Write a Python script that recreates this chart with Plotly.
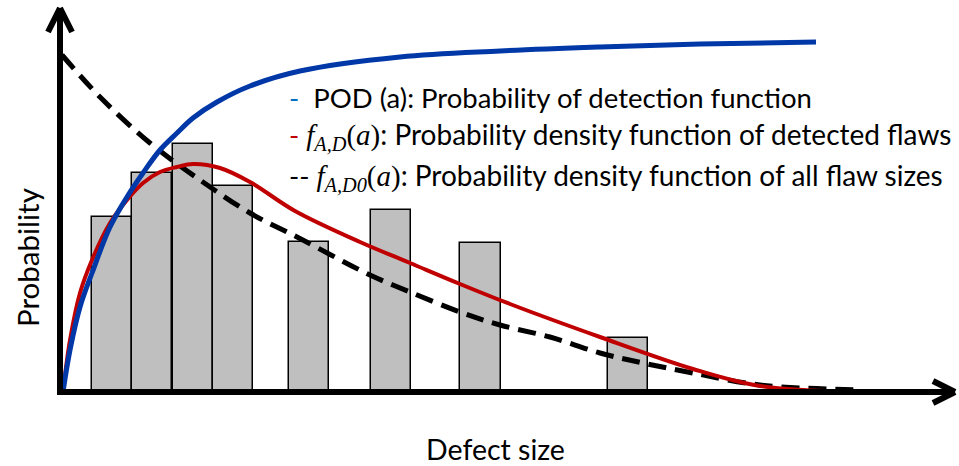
import plotly.graph_objects as go

# ---- data (x: defect size, arbitrary units; y: probability, arbitrary units)
bar_x = [5.17, 9.2, 13.28, 17.33, 24.9, 33.1, 42.05, 56.8]
bar_h = [17.47, 21.87, 24.77, 20.6, 14.97, 18.2, 14.9, 5.37]
bar_w = 4.03

pod_x = [0.3, 1.0, 2.0, 3.2, 5.0, 6.7, 8.3, 10.0, 11.7, 13.3, 15.7, 19.0, 24.0, 34.0, 44.0, 54.0, 64.0, 75.6]
pod_y = [0.0, 4.2, 8.5, 11.9, 16.5, 19.5, 21.9, 24.2, 25.9, 27.4, 29.0, 30.6, 32.1, 33.5, 34.1, 34.5, 34.8, 35.0]

fad_x = [0.3, 1.0, 2.0, 3.2, 5.0, 6.7, 8.3, 10.0, 11.7, 13.3, 16.0, 19.0, 23.5, 30.0, 35.0, 40.0, 45.0, 54.0, 63.3, 70.0, 79.3]
fad_y = [0.0, 5.2, 9.9, 13.2, 16.9, 19.2, 20.9, 22.0, 22.5, 22.8, 22.4, 21.0, 18.1, 15.0, 12.9, 10.8, 8.8, 5.5, 2.3, 0.6, 0.0]

fall_x = [0.2, 4.0, 9.0, 14.0, 19.0, 23.7, 31.0, 35.0, 40.0, 44.0, 49.0, 54.0, 58.3, 63.3, 70.0, 80.0]
fall_y = [33.7, 29.5, 24.9, 21.2, 17.9, 15.5, 11.7, 10.0, 8.0, 6.7, 5.5, 3.9, 2.9, 1.9, 0.7, 0.2]

x_label = "Defect size"
y_label = "Probability"
legend_marks = ["-", "-", "--"]
legend_mark_colors = ["#0070C0", "#C00000", "#000000"]
legend_math = ["", "<i>f</i><sub><i>A,D</i></sub>(<i>a</i>)", "<i>f</i><sub><i>A,D0</i></sub>(<i>a</i>)"]
legend_texts = ["POD (a): Probability of detection function",
                ": Probability density function of detected flaws",
                ": Probability density function of all flaw sizes"]

fig = go.Figure()
fig.add_trace(go.Bar(x=bar_x, y=bar_h, width=bar_w,
                     marker=dict(color="#BFBFBF", line=dict(color="black", width=1.5)),
                     showlegend=False, hoverinfo="skip"))
fig.add_trace(go.Scatter(x=fall_x, y=fall_y, mode="lines", line_shape="spline",
                         line=dict(color="black", width=5, dash="18px,9px"), showlegend=False))
fig.add_trace(go.Scatter(x=fad_x, y=fad_y, mode="lines", line_shape="spline",
                         line=dict(color="#C00000", width=4), showlegend=False))
fig.add_trace(go.Scatter(x=pod_x, y=pod_y, mode="lines", line_shape="spline",
                         line=dict(color="#0038A8", width=5), showlegend=False))

# axes with open arrow heads
ax = dict(type="line", xref="x", yref="y", line=dict(color="black", width=6), layer="above")
fig.add_shape(**ax, x0=0, y0=-0.3, x1=0, y1=38.4)
fig.add_shape(**ax, x0=-0.3, y0=0, x1=89.5, y1=0)
fig.add_shape(**ax, x0=0, y0=38.4, x1=-1.2, y1=36.0)
fig.add_shape(**ax, x0=0, y0=38.4, x1=1.2, y1=36.0)
fig.add_shape(**ax, x0=89.5, y0=0, x1=87.3, y1=1.1)
fig.add_shape(**ax, x0=89.5, y0=0, x1=87.3, y1=-1.1)

txt_font = "Lato"
math_font = "Liberation Serif"
ys = [29.5, 25.6, 21.5]
for mark, mc, math, body, yy in zip(legend_marks, legend_mark_colors, legend_math, legend_texts, ys):
    if math:
        text = (f"<span style='color:{mc}'>{mark}</span> "
                f"<span style='font-family:{math_font};font-size:29px'>{math}</span>"
                f"<span style='font-size:28px'>{body}</span>")
    else:
        text = f"<span style='color:{mc}'>{mark}</span>  {body}"
    fig.add_annotation(x=22.7, y=yy, xref="x", yref="y", text=text, showarrow=False,
                       xanchor="left", yanchor="middle",
                       font=dict(family=txt_font, size=27.5, color="black"))

fig.add_annotation(x=43.5, y=-5.7, xref="x", yref="y", text=x_label, showarrow=False,
                   font=dict(family=txt_font, size=28.5, color="black"))
fig.add_annotation(x=-3.3, y=13.4, xref="x", yref="y", text=y_label, showarrow=False,
                   textangle=-90, font=dict(family=txt_font, size=29.5, color="black"))

fig.update_layout(width=959, height=466, margin=dict(l=0, r=0, t=0, b=0),
                  paper_bgcolor="white", plot_bgcolor="white", bargap=0,
                  xaxis=dict(range=[-6.0, 89.9], visible=False),
                  yaxis=dict(range=[-7.4, 39.2], visible=False))
fig.write_html("out.html")
